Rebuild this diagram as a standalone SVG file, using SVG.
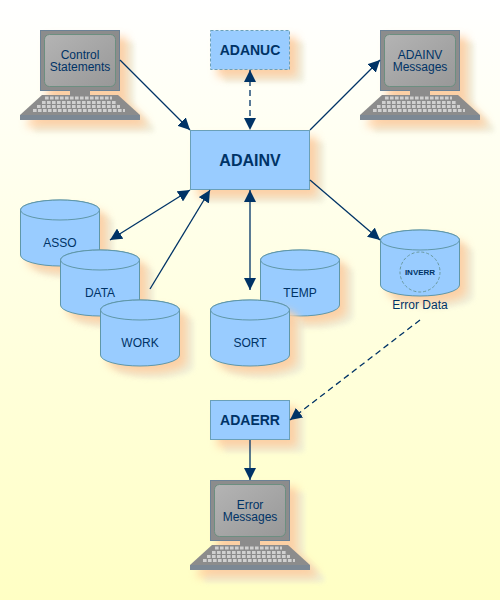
<svg xmlns="http://www.w3.org/2000/svg" xmlns:xlink="http://www.w3.org/1999/xlink" width="500" height="600" viewBox="0 0 500 600">
<style>
text{font-family:"Liberation Sans",Arial,sans-serif;fill:#003366;text-anchor:middle;font-size:12px}
.b{font-weight:bold;font-size:14px}
.box{fill:#99ccff;stroke:#6aa0b8;stroke-width:1}
.cyl{fill:#99ccff;stroke:#5f97a8;stroke-width:1}
.c{fill:none;stroke:#003366;stroke-width:1.3}
.d{stroke-dasharray:6 4}
.halo{fill:#e9e9d6;opacity:.7;filter:url(#b1)}
.org{fill:#ffcb9c;opacity:.85;filter:url(#b2)}
.key{fill:none;stroke:#d0d0d0;stroke-width:3;stroke-dasharray:3.6 1.4}
</style>
<defs>
<linearGradient id="bg" x1="0" y1="0" x2="0" y2="1"><stop offset="0" stop-color="#ffffff"/><stop offset="1" stop-color="#ffffc4"/></linearGradient>
<linearGradient id="scr" x1="0" y1="0" x2="1" y2="1"><stop offset="0" stop-color="#b4b4b4"/><stop offset="1" stop-color="#989898"/></linearGradient>
<filter id="b1" x="-30%" y="-30%" width="160%" height="160%"><feGaussianBlur stdDeviation="2.5"/></filter>
<filter id="b2" x="-30%" y="-30%" width="160%" height="160%"><feGaussianBlur stdDeviation="4"/></filter>
<marker id="a" viewBox="0 0 12 12" refX="12" refY="6" markerWidth="12" markerHeight="12" markerUnits="userSpaceOnUse" orient="auto-start-reverse"><path d="M0 0L12 6L0 12z" fill="#003366"/></marker>
<path id="termS" d="M40 30H120V95L140 115V120H20V115L40 95z"/>
<g id="term">
<use xlink:href="#termS" class="halo" transform="translate(14,12)"/>
<use xlink:href="#termS" class="org" transform="translate(7,7)"/>
<rect x="40.500" y="30.500" width="79" height="60" fill="#8c8c8c" stroke="#6c8296"/>
<rect x="70" y="90" width="20" height="6" fill="#8c8c8c"/>
<rect x="44.500" y="34.500" width="71" height="52" rx="5" fill="url(#scr)" stroke="#6c8f80"/>
<path d="M42 95H118L140 115V120H20V115z" fill="#8c8c8c"/>
<path d="M20 115H140V120H20z" fill="#7c8894"/>
<path class="key" d="M45 98H112M42 102.500H117M37 106.500H120M33 110.500H125"/>
</g>
<path id="cylS" d="M20.500 210V255A39.500 11 0 0 0 99.500 255V210A39.500 10 0 0 0 20.500 210z"/>
<g id="cyl">
<use xlink:href="#cylS" class="halo" transform="translate(14,12)"/>
<use xlink:href="#cylS" class="org" transform="translate(7,7)"/>
<use xlink:href="#cylS" class="cyl"/>
<ellipse cx="60" cy="210" rx="39.500" ry="10" class="cyl"/>
</g>
</defs>
<rect width="500" height="600" fill="url(#bg)"/>
<g id="control"><use xlink:href="#term"/><text y="59"><tspan x="80">Control</tspan><tspan x="80" dy="12">Statements</tspan></text></g>
<g id="adainv-messages"><use xlink:href="#term" x="340"/><text y="59"><tspan x="420">ADAINV</tspan><tspan x="420" dy="12">Messages</tspan></text></g>
<g id="adanuc">
<rect x="224" y="42" width="80" height="40" class="halo"/><rect x="217" y="37" width="80" height="40" class="org"/>
<rect x="210.500" y="30.500" width="79" height="39" class="box" stroke-dasharray="3 2"/>
<text x="250" y="55" class="b">ADANUC</text></g>
<g id="adainv">
<rect x="204" y="142" width="120" height="60" class="halo"/><rect x="197" y="137" width="120" height="60" class="org"/>
<rect x="190.500" y="130.500" width="119" height="59" class="box"/>
<text x="250" y="166" class="b" style="font-size:16px">ADAINV</text></g>
<g id="asso"><use xlink:href="#cyl"/><text x="60" y="247">ASSO</text></g>
<g id="data"><use xlink:href="#cyl" x="40" y="50"/><text x="100" y="297">DATA</text></g>
<g id="work"><use xlink:href="#cyl" x="80" y="100"/><text x="140" y="347">WORK</text></g>
<g id="temp"><use xlink:href="#cyl" x="240" y="50"/><text x="300" y="297">TEMP</text></g>
<g id="sort"><use xlink:href="#cyl" x="190" y="100"/><text x="250" y="347">SORT</text></g>
<g id="error-data"><use xlink:href="#cyl" x="360" y="30"/>
<circle cx="420" cy="272" r="20" fill="none" stroke="#6a9aa0" stroke-dasharray="3 2"/>
<text x="420" y="275" style="font-size:8px;font-weight:bold">INVERR</text>
<text x="420" y="309">Error Data</text></g>
<g id="adaerr">
<rect x="224" y="412" width="80" height="40" class="halo"/><rect x="217" y="407" width="80" height="40" class="org"/>
<rect x="210.500" y="400.500" width="79" height="39" class="box"/>
<text x="250" y="425" class="b">ADAERR</text></g>
<g id="error-messages"><use xlink:href="#term" x="170" y="450"/><text y="509"><tspan x="250">Error</tspan><tspan x="250" dy="12">Messages</tspan></text></g>
<g id="connectors">
<line x1="120" y1="60" x2="190" y2="130" class="c" marker-end="url(#a)"/>
<line x1="250" y1="70" x2="250" y2="130" class="c d" marker-start="url(#a)" marker-end="url(#a)"/>
<line x1="310" y1="130" x2="380" y2="60" class="c" marker-end="url(#a)"/>
<line x1="310" y1="180" x2="380" y2="240" class="c" marker-end="url(#a)"/>
<line x1="110" y1="240" x2="190" y2="190" class="c" marker-start="url(#a)" marker-end="url(#a)"/>
<line x1="150" y1="289" x2="210" y2="190" class="c" marker-end="url(#a)"/>
<line x1="250" y1="190" x2="250" y2="290" class="c" marker-start="url(#a)" marker-end="url(#a)"/>
<line x1="420" y1="320" x2="290" y2="420" class="c d" marker-end="url(#a)"/>
<line x1="250" y1="440" x2="250" y2="480" class="c" marker-end="url(#a)"/>
</g>
</svg>
